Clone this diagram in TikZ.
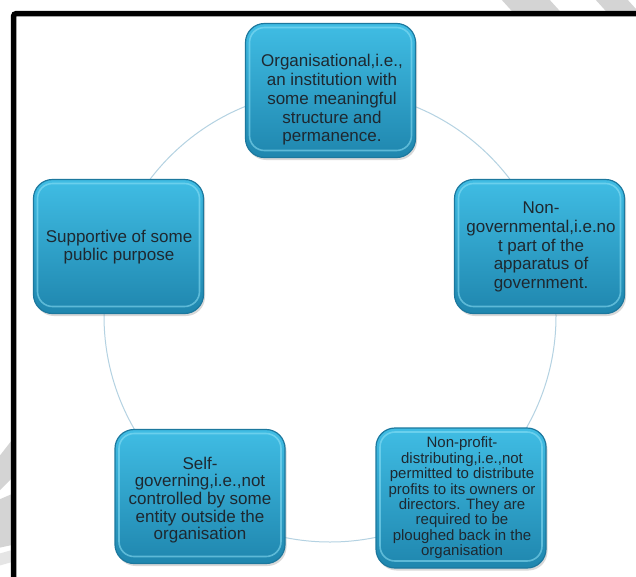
\documentclass[tikz,border=0pt]{standalone}
\usepackage{fontspec}
\setmainfont{Liberation Sans}
\usetikzlibrary{shadows}
\definecolor{boxtop}{HTML}{40BDE4}
\definecolor{boxmid}{HTML}{34ACD6}
\definecolor{boxbot}{HTML}{1F86AE}
\definecolor{boxedge}{HTML}{1C789E}
\definecolor{boxhi}{HTML}{8FE2F7}
\definecolor{ringc}{HTML}{B4D2E2}
\definecolor{txt}{HTML}{1E2830}
\definecolor{wm}{HTML}{D4D4D4}
\begin{document}
\begin{tikzpicture}[x=1pt,y=-1pt,
  cbox/.style={draw=boxedge, line width=1.2pt, rounded corners=19pt,
    top color=boxtop, middle color=boxmid, bottom color=boxbot,
    minimum width=170pt, minimum height=134pt, inner sep=0pt,
    drop shadow={opacity=0.3, shadow xshift=1.5pt, shadow yshift=-2.5pt},
    path picture={\draw[boxhi, opacity=0.55, line width=1.6pt, rounded corners=15pt]
      ([shift={(4pt,-4pt)}]path picture bounding box.north west) rectangle
      ([shift={(-4pt,7pt)}]path picture bounding box.south east);}},
  ctext/.style={text=txt, align=center, inner sep=0pt,
    font=\fontsize{17}{18.7}\selectfont},
  stext/.style={text=txt, align=center, inner sep=0pt,
    font=\fontsize{15}{15.4}\selectfont},
  ringline/.style={draw=ringc, line width=1pt},
  frameline/.style={draw=black, line width=5.5pt, rounded corners=3pt},
  wmark/.style={fill=wm}]
\useasboundingbox (0,0) rectangle (636,576);
\fill[white] (0,0) rectangle (636,576);
% watermark outside the frame
\begin{scope}
  \clip (0,0) rectangle (12,576) (0,0) rectangle (636,12);
  \fill[wmark] (500,-2) -- (548,-2) -- (568,20) -- (520,20) -- cycle;
  \fill[wmark] (594,-2) -- (626,-2) -- (646,20) -- (614,20) -- cycle;
  \fill[wmark] (-2,458) -- (12,440) -- (12,478) -- (-2,492) -- cycle;
  \fill[wmark] (-2,500) -- (12,494) -- (12,545) -- (-2,548) -- cycle;
  \fill[wm!60] (-2,554) -- (12,550) -- (12,562) -- (-2,566) -- cycle;
\end{scope}
% ring
\coordinate (c) at (330,316);
\draw[ringline] (c) circle[radius=226pt];
% boxes
\node[cbox] (b1) at (330.5,90.5) {};
\node[ctext] (t1) at (332,100) {Organisational,i.e.,\\an institution with\\some meaningful\\structure and\\permanence.};
\node[cbox] (b2) at (539.5,246.5) {};
\node[ctext] (t2) at (541,247) {Non-\\governmental,i.e.no\\t part of the\\apparatus of\\government.};
\node[cbox, minimum height=140pt] (b3) at (461,498) {};
\node[stext] (t3) at (462,498) {Non-profit-\\distributing,i.e.,not\\permitted to distribute\\profits to its owners or\\directors. They are\\required to be\\ploughed back in the\\organisation};
\node[cbox] (b4) at (200,496.5) {};
\node[ctext, font=\fontsize{17}{17.6}\selectfont] (t4) at (200,500) {Self-\\governing,i.e.,not\\controlled by some\\entity outside the\\organisation};
\node[cbox] (b5) at (118.5,246.5) {};
\node[ctext] (t5) at (119,247) {Supportive of some\\public purpose};
% frame
\draw[frameline] (13.5,590) -- (13.5,13.5) -- (650,13.5);
\end{tikzpicture}
\end{document}
